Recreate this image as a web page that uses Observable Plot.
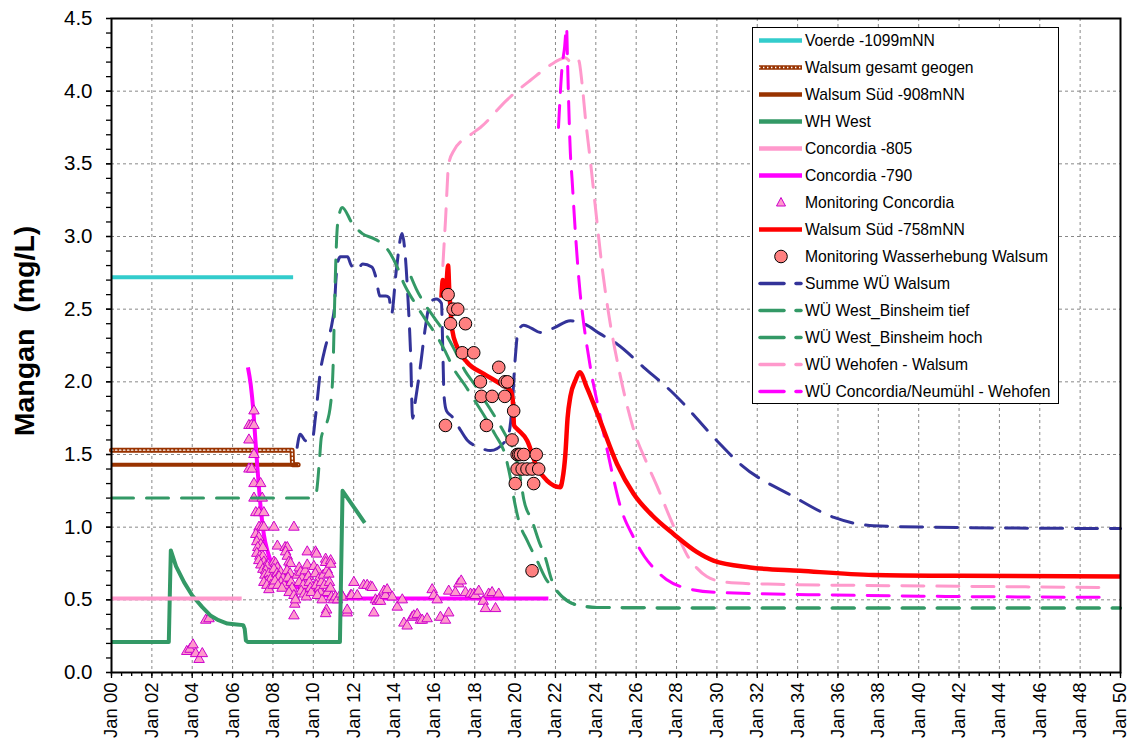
<!DOCTYPE html>
<html>
<head>
<meta charset="utf-8">
<script src="https://cdn.jsdelivr.net/npm/d3@7"></script>
<script src="https://cdn.jsdelivr.net/npm/@observablehq/plot@0.6"></script>
<style>
  body { margin: 0; background: #fff; font-family: "Liberation Sans", Arial, sans-serif; }
  #wrap { position: relative; width: 1130px; height: 742px; }
  #legend { position: absolute; left: 752px; top: 27px; width: 307px; height: 377px;
            border: 1.5px solid #000; background: #fff; box-sizing: border-box; }
</style>
</head>
<body>
<div id="wrap"></div>
<script>
// ---- series: [year offset from 2000, Mn in mg/L] ----
const voerde = [[0, 2.72], [9, 2.72]];
const walsumGeogen = [[0, 1.53], [8.95, 1.53], [8.97, 1.43], [9.25, 1.43]];
const walsumSued908 = [[0, 1.43], [9.25, 1.43]];
const whWest = [[0, 0.21], [2.84, 0.21], [2.9, 0.6], [2.94, 0.84], [3.2, 0.73], [3.6, 0.62], [4.0, 0.53],
  [4.5, 0.45], [4.92, 0.39], [5.3, 0.36], [5.74, 0.337], [6.2, 0.33], [6.53, 0.326], [6.6, 0.3],
  [6.66, 0.22], [6.75, 0.21], [11.32, 0.21], [11.38, 0.7], [11.45, 1.25], [12.0, 1.14], [12.55, 1.03]];
const concordia805 = [[0, 0.51], [6.45, 0.51]];
const concordia790 = [[6.76, 2.1], [6.9, 1.98], [7.03, 1.8], [7.13, 1.6], [7.23, 1.41], [7.39, 1.14],
  [7.55, 0.95], [7.72, 0.84], [8.05, 0.72], [8.5, 0.65], [9.0, 0.6], [9.5, 0.57], [10.0, 0.55],
  [10.5, 0.535], [11.0, 0.52], [11.5, 0.51], [21.65, 0.51]];
const walsumSued758 = [[16.35, 2.58], [16.42, 2.7], [16.5, 2.6], [16.6, 2.68], [16.68, 2.8], [16.74, 2.62],
  [16.8, 2.5], [16.88, 2.36], [17.13, 2.24], [17.62, 2.135], [18.45, 2.055], [19.27, 1.986], [19.77, 1.94],
  [19.88, 1.88], [19.95, 1.7], [20.1, 1.676], [20.6, 1.595], [21.09, 1.41], [21.58, 1.32], [22.24, 1.275],
  [22.35, 1.33], [22.49, 1.5], [22.6, 1.75], [22.74, 1.9], [22.99, 2.01], [23.2, 2.066], [23.56, 1.96],
  [24.22, 1.73], [25.05, 1.435], [25.87, 1.23], [26.8, 1.08], [27.85, 0.953], [29.0, 0.83], [29.83, 0.77],
  [31.65, 0.723], [34.12, 0.7], [37.75, 0.671], [42, 0.665], [50, 0.661]];
const summeWalsum = [[9.2, 1.55], [9.35, 1.64], [9.62, 1.595], [9.95, 1.6], [10.1, 1.75], [10.36, 2.08],
  [10.6, 2.24], [10.95, 2.42], [11.05, 2.52], [11.12, 2.7], [11.22, 2.83], [11.35, 2.86], [11.7, 2.86],
  [11.85, 2.81], [12.15, 2.77], [12.45, 2.81], [12.9, 2.79], [13.1, 2.72], [13.3, 2.59], [13.6, 2.59],
  [13.75, 2.58], [13.88, 2.47], [14.1, 2.75], [14.4, 3.02], [14.55, 2.88], [14.7, 2.55], [14.82, 2.2],
  [14.92, 1.75], [15.06, 1.87], [15.3, 2.1], [15.56, 2.38], [15.8, 2.55], [16.1, 2.57], [16.35, 2.54],
  [16.42, 2.2], [16.48, 1.9], [16.6, 1.8], [16.88, 1.76], [17.21, 1.687], [17.62, 1.6], [18.2, 1.55],
  [18.78, 1.527], [19.44, 1.58], [19.7, 1.65], [19.85, 1.83], [20.0, 2.15], [20.15, 2.35], [20.43, 2.39],
  [20.8, 2.37], [21.25, 2.34], [21.9, 2.37], [22.74, 2.42], [23.4, 2.4], [24.22, 2.33], [25.05, 2.26],
  [26.37, 2.1], [27.85, 1.92], [30, 1.595], [31.15, 1.435], [33.8, 1.21], [35.8, 1.067], [37.75, 1.01],
  [40.7, 1.0], [50, 0.99]];
const binsheimTief = [[0, 1.2], [9.95, 1.2], [10.15, 1.24], [10.3, 1.45], [10.4, 1.62], [10.6, 1.69],
  [10.86, 1.85], [10.98, 2.1], [11.05, 2.5], [11.12, 2.85], [11.2, 3.08], [11.43, 3.2], [11.93, 3.09],
  [12.43, 3.02], [13.0, 2.985], [13.42, 2.95], [13.83, 2.88], [14.16, 2.79], [14.49, 2.675], [15.0, 2.55],
  [15.48, 2.445], [16.14, 2.31], [16.5, 2.22], [17.0, 2.08], [17.5, 1.98], [18.0, 1.87], [18.5, 1.76],
  [19.0, 1.64], [19.5, 1.5], [19.75, 1.35], [19.93, 1.205], [20.18, 1.045], [20.6, 0.907], [21.09, 0.77],
  [21.58, 0.632], [21.9, 0.585], [22.57, 0.494], [23.2, 0.46], [24.06, 0.448], [30, 0.443], [50, 0.443]];
const binsheimHoch = [[14.85, 2.72], [15.1, 2.64], [15.5, 2.54], [15.97, 2.445], [16.6, 2.32], [17.0, 2.22],
  [17.5, 2.08], [18.0, 1.98], [18.5, 1.87], [19.0, 1.76], [19.5, 1.64], [20.0, 1.5], [20.25, 1.35],
  [20.43, 1.19], [20.84, 1.045], [21.17, 0.907], [21.5, 0.79], [21.83, 0.63], [22.0, 0.58], [22.6, 0.494],
  [23.2, 0.46], [24.06, 0.448], [30, 0.443], [50, 0.443]];
const wehofenWalsum = [[16.42, 2.8], [16.55, 3.11], [16.71, 3.5], [16.96, 3.59], [17.79, 3.7], [18.28, 3.75],
  [19.6, 3.94], [20.26, 4.02], [20.76, 4.075], [21.75, 4.18], [22.25, 4.22], [22.49, 4.23], [22.74, 4.2],
  [22.9, 4.19], [23.0, 4.21], [23.15, 4.21], [23.32, 4.05], [23.48, 3.82], [23.73, 3.52], [23.98, 3.2],
  [24.3, 2.8], [24.6, 2.5], [25.2, 2.05], [25.9, 1.66], [26.5, 1.45], [27.1, 1.26], [27.6, 1.09],
  [28.2, 0.9], [28.6, 0.79], [29.0, 0.72], [29.5, 0.66], [30.0, 0.632], [31, 0.615], [33, 0.607],
  [39, 0.597], [49.5, 0.585]];
const concordiaWehofen = [[22.15, 3.75], [22.33, 4.17], [22.45, 4.3], [22.55, 4.44], [22.6, 4.2],
  [22.65, 3.94], [22.74, 3.57], [22.82, 3.4], [22.99, 3.02], [23.23, 2.6], [23.32, 2.49], [23.73, 2.1],
  [24.22, 1.76], [24.8, 1.38], [25.2, 1.15], [25.87, 0.93], [26.4, 0.8], [26.86, 0.72], [27.5, 0.64],
  [28.35, 0.585], [30, 0.551], [35.8, 0.533], [49.5, 0.517]];

// monitoring samples
const monitoringConcordia = [[3.73, 0.145], [3.89, 0.16], [4.04, 0.19], [4.17, 0.13], [4.34, 0.09], [4.5, 0.13],
  [4.67, 0.36], [4.83, 0.37],
  [6.81, 1.7], [6.93, 1.7], [7.06, 1.8], [7.06, 1.7], [6.81, 1.6], [7.06, 1.5], [6.81, 1.4], [6.95, 1.4],
  [7.06, 1.3], [7.39, 1.3], [7.06, 1.2], [7.47, 1.2], [7.15, 1.1], [7.3, 1.1], [7.55, 1.1], [7.31, 1.0],
  [7.45, 1.0], [7.55, 1.0], [8.05, 1.0], [9.04, 1.0],
  [7.15, 0.95], [7.3, 0.93], [7.2, 0.9], [7.4, 0.88], [7.25, 0.86], [7.5, 0.86], [7.2, 0.82], [7.35, 0.8],
  [7.5, 0.8], [7.3, 0.77], [7.55, 0.76], [7.4, 0.74], [7.65, 0.73], [7.5, 0.71], [7.72, 0.73], [7.64, 0.7],
  [7.6, 0.67], [7.8, 0.68], [7.72, 0.63], [7.88, 0.64], [7.55, 0.62], [7.9, 0.6], [7.7, 0.6], [7.8, 0.57],
  [8.0, 0.6], [8.05, 0.76], [8.13, 0.75], [8.22, 0.72], [8.05, 0.71], [8.2, 0.68], [8.38, 0.69], [8.3, 0.66],
  [8.5, 0.65], [8.4, 0.62], [8.1, 0.63], [8.25, 0.6], [8.55, 0.6], [8.45, 0.58], [8.22, 0.87], [8.6, 0.86],
  [8.71, 0.86], [8.63, 0.83], [8.71, 0.8], [8.79, 0.76], [8.87, 0.75], [8.7, 0.7], [8.85, 0.68], [8.75, 0.65],
  [8.9, 0.62], [8.95, 0.58], [8.8, 0.55], [9.04, 0.53], [9.08, 0.47], [9.12, 0.5], [9.04, 0.39],
  [9.2, 0.67], [9.3, 0.72], [9.37, 0.69], [9.45, 0.65], [9.3, 0.62], [9.5, 0.6], [9.4, 0.56], [9.55, 0.54],
  [9.6, 0.7], [9.7, 0.74], [9.7, 0.83], [9.75, 0.66], [9.8, 0.62], [9.85, 0.58], [9.65, 0.52], [9.9, 0.55],
  [10.03, 0.73], [10.11, 0.83], [10.16, 0.815], [10.2, 0.705], [10.1, 0.68], [10.25, 0.64], [10.15, 0.6],
  [10.3, 0.58], [10.35, 0.55], [10.2, 0.53], [10.44, 0.5], [10.4, 0.62], [10.5, 0.67], [10.55, 0.6],
  [10.61, 0.78], [10.61, 0.757], [10.69, 0.705], [10.77, 0.677], [10.86, 0.77], [10.86, 0.745], [10.66, 0.43],
  [10.61, 0.405], [10.7, 0.55], [10.8, 0.62], [10.85, 0.58], [10.9, 0.52], [11.0, 0.5],
  [11.1, 0.52], [11.2, 0.5], [11.37, 0.54], [11.45, 0.52], [11.68, 0.41], [11.68, 0.43], [11.85, 0.53],
  [11.9, 0.53], [12.01, 0.62], [12.18, 0.53], [12.5, 0.6], [12.67, 0.6], [12.84, 0.59], [12.92, 0.585],
  [13.0, 0.41], [13.08, 0.5], [13.17, 0.49], [13.25, 0.5], [13.33, 0.49], [13.5, 0.56], [13.58, 0.53],
  [13.66, 0.57], [13.91, 0.52], [14.16, 0.45], [14.41, 0.5], [14.49, 0.34], [14.65, 0.32], [14.9, 0.38],
  [14.98, 0.39], [15.15, 0.4], [15.31, 0.36], [15.4, 0.36], [15.64, 0.37], [15.89, 0.57], [15.97, 0.53],
  [16.14, 0.5], [16.3, 0.38], [16.55, 0.36], [16.71, 0.41], [16.71, 0.56], [17.04, 0.55], [17.21, 0.61],
  [17.33, 0.63], [17.54, 0.55], [17.79, 0.54], [17.95, 0.54], [18.03, 0.53], [18.2, 0.56], [18.42, 0.49],
  [18.53, 0.44], [18.69, 0.54], [18.86, 0.55], [19.03, 0.44], [19.19, 0.54]];
const monitoringWalsum = [[16.68, 2.6], [16.93, 2.5], [17.16, 2.5], [16.8, 2.4], [17.54, 2.4], [17.38, 2.2],
  [17.95, 2.2], [19.19, 2.1], [18.28, 2.0], [19.5, 2.0], [19.62, 2.0], [18.33, 1.9], [18.86, 1.9],
  [19.49, 1.9], [19.93, 1.8], [16.55, 1.7], [18.58, 1.7], [19.85, 1.6], [20.1, 1.5], [20.18, 1.5],
  [20.26, 1.5], [20.43, 1.5], [21.05, 1.5], [20.1, 1.4], [20.35, 1.4], [20.59, 1.4], [20.84, 1.4],
  [21.17, 1.4], [20.01, 1.3], [20.92, 1.3], [20.84, 0.7]];

// axis ticks
const xMajor = d3.range(0, 51, 2);
const xMinor = d3.range(0, 50.01, 0.5);
const yMajor = d3.range(0, 4.51, 0.5);
const yMinor = d3.range(0, 4.51, 0.1);

const C = {
  cyan: "#33CCCC", brown: "#993300", green: "#339966", pink: "#FF99CC",
  magenta: "#FF00FF", red: "#FF0000", navy: "#333399", tri: "#CC00CC", salmon: "#FF8080"
};
const DASH = "22,13";

const xy = {x: d => d[0], y: d => d[1]};
const solid = (data, stroke, w = 4, curve = "monotone-x") =>
  Plot.line(data, {...xy, stroke, strokeWidth: w, curve, strokeLinecap: "butt"});
const dashed = (data, stroke) =>
  Plot.line(data, {...xy, stroke, strokeWidth: 3, curve: "monotone-x", strokeDasharray: DASH, strokeLinecap: "round"});

const chart = Plot.plot({
  width: 1130,
  height: 742,
  marginLeft: 111,
  marginRight: 10,
  marginTop: 18,
  marginBottom: 70,
  style: {fontFamily: "'Liberation Sans', Arial, sans-serif", background: "#fff", color: "#000"},
  x: {domain: [0, 50], label: null},
  y: {domain: [0, 4.5], label: null},
  marks: [
    Plot.gridX(d3.range(2, 50, 2), {stroke: "#888", strokeOpacity: 1, strokeDasharray: "3,3"}),
    Plot.gridY(d3.range(0.5, 4.5, 0.5), {stroke: "#888", strokeOpacity: 1, strokeDasharray: "3,3"}),
    Plot.axisX(xMinor, {tickSize: 4, tickFormat: () => "", label: null, strokeWidth: 1.3}),
    Plot.axisX(xMajor, {tickSize: 6, tickPadding: 4, tickRotate: -90, label: null, fontSize: 18.5,
      tickFormat: d => "Jan " + String(d).padStart(2, "0"), strokeWidth: 1.3}),
    Plot.axisY(yMinor, {tickSize: 5, tickFormat: () => "", label: null, strokeWidth: 1.3}),
    Plot.axisY(yMajor, {tickSize: 5, tickPadding: 14, label: null, fontSize: 20.5,
      tickFormat: d3.format(".1f"), strokeWidth: 1.3}),

    solid(voerde, C.cyan, 4, "linear"),
    Plot.line(walsumGeogen, {...xy, stroke: C.brown, strokeWidth: 5}),
    Plot.line(walsumGeogen, {...xy, stroke: "#fff", strokeWidth: 1.4, strokeDasharray: "1.4,2.6"}),
    solid(walsumSued908, C.brown, 4, "linear"),
    solid(concordia790, C.magenta, 4),
    Plot.dot(monitoringConcordia, {...xy, symbol: "triangle", r: 3.9, fill: C.pink, stroke: C.tri, strokeWidth: 1}),
    solid(whWest, C.green, 4, "linear"),
    solid(concordia805, C.pink, 4, "linear"),

    dashed(summeWalsum, C.navy),
    dashed(binsheimTief, C.green),
    dashed(binsheimHoch, C.green),
    dashed(wehofenWalsum, C.pink),
    dashed(concordiaWehofen, C.magenta),

    solid(walsumSued758, C.red, 4.5),
    Plot.dot(monitoringWalsum, {...xy, r: 6.3, fill: C.salmon, stroke: "#000", strokeWidth: 1}),

    Plot.frame({stroke: "#000", strokeWidth: 2})
  ]
});

const wrap = document.getElementById("wrap");
wrap.appendChild(chart);

// y-axis title
d3.select(chart).append("text")
  .attr("transform", "translate(24,331) rotate(-90)")
  .attr("text-anchor", "middle")
  .attr("dominant-baseline", "central")
  .style("font-weight", "bold")
  .style("font-size", "28.5px")
  .style("white-space", "pre")
  .attr("fill", "#000")
  .text("Mangan  (mg/L)");

// legend
const legendItems = [
  {label: "Voerde -1099mNN", kind: "solid", color: C.cyan},
  {label: "Walsum gesamt geogen", kind: "dotted", color: C.brown},
  {label: "Walsum Süd -908mNN", kind: "solid", color: C.brown},
  {label: "WH West", kind: "solid", color: C.green},
  {label: "Concordia -805", kind: "solid", color: C.pink},
  {label: "Concordia -790", kind: "solid", color: C.magenta},
  {label: "Monitoring Concordia", kind: "triangle"},
  {label: "Walsum Süd -758mNN", kind: "solid", color: C.red},
  {label: "Monitoring Wasserhebung Walsum", kind: "circle"},
  {label: "Summe WÜ Walsum", kind: "dash", color: C.navy},
  {label: "WÜ West_Binsheim tief", kind: "dash", color: C.green},
  {label: "WÜ West_Binsheim hoch", kind: "dash", color: C.green},
  {label: "WÜ Wehofen - Walsum", kind: "dash", color: C.pink},
  {label: "WÜ Concordia/Neumühl - Wehofen", kind: "dash", color: C.magenta}
];

const legend = d3.select(wrap).append("div").attr("id", "legend");
const lsvg = legend.append("svg").attr("width", 304).attr("height", 374)
  .style("font-family", "'Liberation Sans', Arial, sans-serif");
legendItems.forEach((it, i) => {
  const cy = 12.5 + i * 27;
  const g = lsvg.append("g").attr("transform", `translate(0,${cy})`);
  if (it.kind === "solid" || it.kind === "dotted") {
    g.append("line").attr("x1", 6).attr("x2", 49).attr("stroke", it.color).attr("stroke-width", 4.5);
    if (it.kind === "dotted")
      g.append("line").attr("x1", 6).attr("x2", 49).attr("stroke", "#fff")
        .attr("stroke-width", 1.3).attr("stroke-dasharray", "1.4,2.6");
  } else if (it.kind === "dash") {
    g.append("line").attr("x1", 7).attr("x2", 31).attr("stroke", it.color).attr("stroke-width", 3.5).attr("stroke-linecap", "round");
    g.append("line").attr("x1", 43).attr("x2", 48).attr("stroke", it.color).attr("stroke-width", 3.5).attr("stroke-linecap", "round");
  } else if (it.kind === "triangle") {
    g.append("path").attr("d", "M28,-5L32.5,3.5L23.5,3.5Z").attr("fill", C.pink).attr("stroke", C.tri).attr("stroke-width", 1);
  } else if (it.kind === "circle") {
    g.append("circle").attr("cx", 28).attr("r", 6.3).attr("fill", C.salmon).attr("stroke", "#000").attr("stroke-width", 1);
  }
  g.append("text").attr("x", 52).attr("dominant-baseline", "central").attr("font-size", "15.7px")
    .attr("fill", "#000").text(it.label);
});
</script>
</body>
</html>
